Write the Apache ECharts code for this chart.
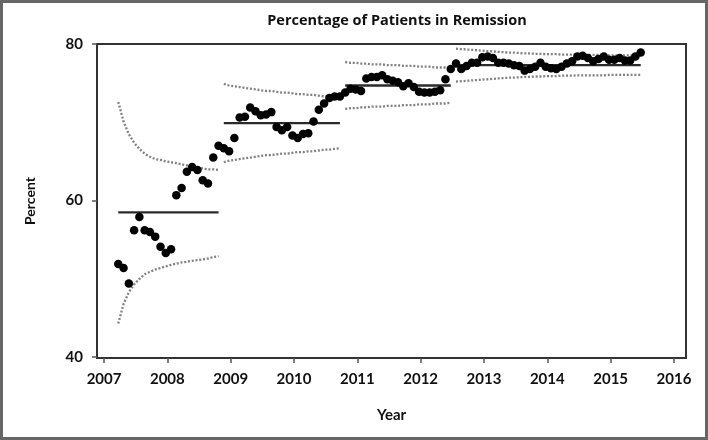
<!DOCTYPE html>
<html><head><meta charset="utf-8">
<script src="https://cdn.jsdelivr.net/npm/echarts@6/dist/echarts.min.js"></script>
<style>html,body{margin:0;padding:0;background:#fff}#c{width:708px;height:440px}</style>
</head><body><div id="c"></div>
<script>
// decimal year of the first monthly observation (March 2007)
const firstMonth = 2007.225;
const remission = [
  51.9, 51.4, 49.4, 56.2, 57.9, 56.2, 56.0, 55.4, 54.1, 53.3, 53.8, 60.7, 61.6, 63.7, 64.3, 63.9, 62.6, 62.2, 65.5, 67.0,
  66.7, 66.3, 68.0, 70.6, 70.7, 71.9, 71.4, 70.9, 71.0, 71.3, 69.4, 69.0, 69.4, 68.3, 68.0, 68.5, 68.6, 70.1, 71.6, 72.4, 73.1, 73.3, 73.3,
  73.8, 74.3, 74.2, 74.0, 75.6, 75.8, 75.8, 76.0, 75.5, 75.3, 75.1, 74.6, 75.0, 74.5, 73.9, 73.8, 73.8, 73.9, 74.1, 75.5, 76.8,
  77.5, 76.8, 77.2, 77.6, 77.6, 78.3, 78.4, 78.2, 77.6, 77.6, 77.5, 77.3, 77.2, 76.6, 76.8, 77.1, 77.6, 77.1, 76.9, 76.8, 77.1, 77.5, 77.8, 78.4, 78.5, 78.2, 77.8, 78.1, 78.4, 78.0, 78.0, 78.2, 77.9, 77.9, 78.4, 78.9
];
const phaseStart = [0, 20, 43, 64];
const phaseEnd = [19, 42, 63, 99];
const centerLine = [58.5, 69.9, 74.7, 77.3];
const upper1 = [72.6, 70.1, 68.5, 67.4, 66.6, 66.0, 65.6, 65.3, 65.2, 65.0, 64.9, 64.8, 64.6, 64.5, 64.3, 64.2, 64.1, 64.0, 64.0, 63.9];
const lower1 = [44.3, 46.8, 48.3, 49.3, 50.0, 50.6, 50.9, 51.2, 51.4, 51.6, 51.8, 51.95, 52.1, 52.2, 52.3, 52.4, 52.5, 52.6, 52.8, 52.9];
const upper2 = [74.9, 74.7, 74.6, 74.5, 74.4, 74.3, 74.2, 74.1, 74.0, 74.0, 73.9, 73.8, 73.8, 73.7, 73.6, 73.6, 73.5, 73.5, 73.4, 73.3, 73.3, 73.2, 73.1];
const lower2 = [64.9, 65.1, 65.2, 65.3, 65.4, 65.5, 65.6, 65.7, 65.8, 65.8, 65.9, 66.0, 66.0, 66.1, 66.2, 66.2, 66.3, 66.3, 66.4, 66.5, 66.5, 66.6, 66.7];
const upper3 = [77.7, 77.6, 77.6, 77.5, 77.5, 77.4, 77.4, 77.4, 77.3, 77.3, 77.3, 77.2, 77.2, 77.2, 77.1, 77.1, 77.1, 77.0, 77.0, 77.0, 76.9];
const lower3 = [71.7, 71.8, 71.8, 71.9, 71.9, 72.0, 72.0, 72.0, 72.1, 72.1, 72.1, 72.2, 72.2, 72.2, 72.3, 72.3, 72.3, 72.4, 72.4, 72.4, 72.5];
const upper4 = [79.4, 79.35, 79.3, 79.25, 79.2, 79.15, 79.1, 79.05, 79.0, 78.95, 78.9, 78.9, 78.85, 78.8, 78.8, 78.75, 78.75, 78.7, 78.7, 78.7,
  78.65, 78.65, 78.65, 78.6, 78.6, 78.6, 78.6, 78.6, 78.6, 78.55, 78.55, 78.55, 78.55, 78.55, 78.55, 78.55];
const lower4 = [75.2, 75.25, 75.3, 75.35, 75.4, 75.45, 75.5, 75.55, 75.6, 75.65, 75.7, 75.7, 75.75, 75.8, 75.8, 75.85, 75.85, 75.9, 75.9, 75.9,
  75.95, 75.95, 75.95, 76.0, 76.0, 76.0, 76.0, 76.0, 76.0, 76.05, 76.05, 76.05, 76.05, 76.05, 76.05, 76.05];
const upperLimits = [upper1, upper2, upper3, upper4];
const lowerLimits = [lower1, lower2, lower3, lower4];
const yearTicks = [2007, 2008, 2009, 2010, 2011, 2012, 2013, 2014, 2015, 2016];
const percentTicks = [40, 60, 80];

const xOf = i => firstMonth + i / 12;
const FONT = 'Lato';
const series = [];
for (let p = 0; p < 4; p++) {
  const s = phaseStart[p];
  const mk = arr => arr.map((v, k) => [xOf(s + k), v]);
  const dotted = { color: '#808080', width: 2.3, type: [2, 1.8], cap: 'butt' };
  series.push({ type: 'line', data: mk(upperLimits[p]), symbol: 'none', lineStyle: dotted, silent: true, z: 1 });
  series.push({ type: 'line', data: mk(lowerLimits[p]), symbol: 'none', lineStyle: dotted, silent: true, z: 1 });
  series.push({ type: 'line', data: [[xOf(s), centerLine[p]], [xOf(phaseEnd[p]), centerLine[p]]], symbol: 'none',
    lineStyle: { color: '#2a2a2a', width: 2.4 }, silent: true, z: 2 });
}
series.push({ type: 'scatter', data: remission.map((v, i) => [xOf(i), v]), symbolSize: 8.5,
  itemStyle: { color: '#000', opacity: 1 }, z: 5 });

const chart = echarts.init(document.getElementById('c'), null, { renderer: 'canvas' });
chart.setOption({
  animation: false,
  backgroundColor: '#fff',
  title: { text: 'Percentage of Patients in Remission', left: 392, top: 8, textAlign: 'center',
    textStyle: { fontFamily: 'Open Sans', fontWeight: 'bold', fontSize: 14.5, color: '#111' } },
  grid: { left: 97, top: 44, width: 589, height: 314, show: true, borderColor: '#333', borderWidth: 2, backgroundColor: 'transparent' },
  xAxis: {
    type: 'value', min: 2006.889, max: 2016.19,
    splitLine: { show: false },
    axisLine: { show: true, lineStyle: { color: '#333', width: 2 } },
    axisTick: { show: true, customValues: yearTicks, length: 5, lineStyle: { color: '#555', width: 1.5 } },
    axisLabel: { customValues: yearTicks, formatter: v => String(Math.round(v)), margin: 14,
      fontFamily: FONT, fontWeight: 'bold', fontSize: 15, color: '#111' },
    name: 'Year', nameLocation: 'middle', nameGap: 50,
    nameTextStyle: { fontFamily: FONT, fontWeight: 'bold', fontSize: 15, color: '#111' }
  },
  yAxis: {
    type: 'value', min: 39.9, max: 80,
    splitLine: { show: false },
    axisLine: { show: true, lineStyle: { color: '#333', width: 2 } },
    axisTick: { show: true, customValues: percentTicks, length: 5, lineStyle: { color: '#555', width: 1.5 } },
    axisLabel: { customValues: percentTicks, formatter: v => String(Math.round(v)), margin: 14,
      fontFamily: FONT, fontWeight: 'bold', fontSize: 15, color: '#111' },
    name: 'Percent', nameLocation: 'middle', nameGap: 60,
    nameTextStyle: { fontFamily: FONT, fontWeight: 'bold', fontSize: 14, color: '#111' }
  },
  graphic: [{ type: 'rect', shape: { x: 1.5, y: 1.5, width: 705, height: 437 },
    style: { fill: 'none', stroke: '#666', lineWidth: 3 }, silent: true, z: 100 }],
  series: series
});
</script></body></html>
